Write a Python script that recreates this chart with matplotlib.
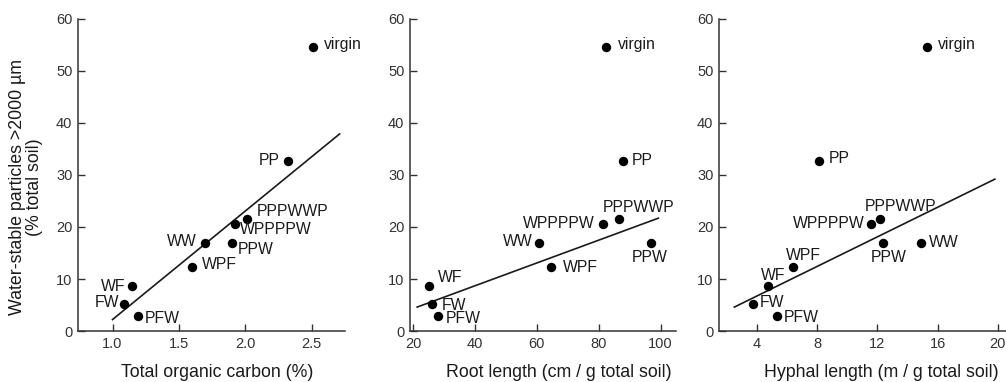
import numpy as np
import matplotlib
matplotlib.use("Agg")
import matplotlib.pyplot as plt

plt.rcParams['font.family'] = ['Liberation Sans', 'DejaVu Sans']

treatments = ['virgin', 'PP', 'PPPWWP', 'WPPPPW', 'PPW', 'WW', 'WPF', 'WF', 'FW', 'PFW']
# water-stable particles > 2000 um (% total soil), same for all panels
stable = [54.6, 32.7, 21.6, 20.6, 17.0, 17.0, 12.3, 8.6, 5.2, 2.9]

carbon = [2.51, 2.32, 2.01, 1.92, 1.90, 1.70, 1.60, 1.15, 1.09, 1.19]
root = [82.5, 88.0, 86.7, 81.5, 97.0, 60.8, 64.7, 25.2, 26.2, 28.2]
hyphae = [15.3, 8.15, 12.2, 11.6, 12.4, 14.9, 6.4, 4.75, 3.75, 5.3]

# fitted lines (end points)
carbon_fit_x = [1.0, 2.71]
carbon_fit_y = [2.2, 37.9]
root_fit_x = [21.3, 99.3]
root_fit_y = [4.6, 21.7]
hyphae_fit_x = [2.5, 19.8]
hyphae_fit_y = [4.6, 29.2]

# label offsets in points and horizontal alignment for each treatment
carbon_lbl = [((8, 2), 'left'), ((-6, 0), 'right'), ((7, 5), 'left'), ((4, -4), 'left'),
              ((4, -5), 'left'), ((-6, 1), 'right'), ((7, 2), 'left'), ((-5, 0), 'right'),
              ((-4, 1), 'right'), ((5, -2), 'left')]
root_lbl = [((8, 2), 'left'), ((6, 0), 'left'), ((-12, 8), 'left'), ((-6, 0), 'right'),
            ((-1, -11), 'center'), ((-5, 1), 'right'), ((8, 0), 'left'), ((6, 6), 'left'),
            ((7, -1), 'left'), ((5, -2), 'left')]
hyphae_lbl = [((8, 2), 'left'), ((7, 2), 'left'), ((-11, 9), 'left'), ((-5, 0), 'right'),
              ((4, -11), 'center'), ((6, 0), 'left'), ((-5, 8), 'left'), ((-5, 8), 'left'),
              ((5, 1), 'left'), ((5, -1), 'left')]

text_col = '#1a1a1a'
fs_tick = 10.5
fs_note = 11.3
fs_label = 12.8

fig = plt.figure(figsize=(10.06, 3.82), dpi=100)
ax1 = fig.add_axes([0.0775, 0.1335, 0.2654, 0.8168])
ax2 = fig.add_axes([0.4076, 0.1335, 0.2644, 0.8168])
ax3 = fig.add_axes([0.7147, 0.1335, 0.2853, 0.8168])

panels = [
    (ax1, carbon, carbon_fit_x, carbon_fit_y, carbon_lbl, (0.74, 2.75), [1.0, 1.5, 2.0, 2.5],
     'Total organic carbon (%)', 0.52),
    (ax2, root, root_fit_x, root_fit_y, root_lbl, (19, 105), [20, 40, 60, 80, 100],
     'Root length (cm / g total soil)', 0.56),
    (ax3, hyphae, hyphae_fit_x, hyphae_fit_y, hyphae_lbl, (1.48, 20.54), [4, 8, 12, 16, 20],
     'Hyphal length (m / g total soil)', 0.565),
]

for ax, xs, fx, fy, lbl, xlim, xt, xlabel, xlab_pos in panels:
    ax.plot(fx, fy, color='#1a1a1a', lw=1.2, zorder=2)
    ax.scatter(xs, stable, s=46, color='black', zorder=3, linewidths=0)
    for name, x, y, (off, ha) in zip(treatments, xs, stable, lbl):
        ax.annotate(name, (x, y), xytext=off, textcoords='offset points',
                    ha=ha, va='center', fontsize=fs_note, color=text_col)
    ax.set_xlim(*xlim)
    ax.set_ylim(0, 60)
    ax.set_xticks(xt)
    if ax is ax1:
        ax.set_xticklabels(['1.0', '1.5', '2.0', '2.5'])
    ax.set_yticks(range(0, 61, 10))
    for s in ('top', 'right'):
        ax.spines[s].set_visible(False)
    for s in ('left', 'bottom'):
        ax.spines[s].set_color('#333333')
        ax.spines[s].set_linewidth(1.1)
    ax.tick_params(direction='in', length=5, width=1.0, color='#333333',
                   labelsize=fs_tick, labelcolor='#333333', pad=4)
    ax.set_xlabel(xlabel, fontsize=fs_label, color=text_col)
    ax.xaxis.set_label_coords(xlab_pos, -0.105)
    ax.xaxis.label.set_va('top')

ax1.set_ylabel('Water-stable particles >2000 \u00b5m\n(% total soil)',
               fontsize=fs_label, color=text_col, linespacing=1.05)
ax1.yaxis.set_label_coords(-0.13, 0.46)

fig.savefig('out.png', dpi=100)
